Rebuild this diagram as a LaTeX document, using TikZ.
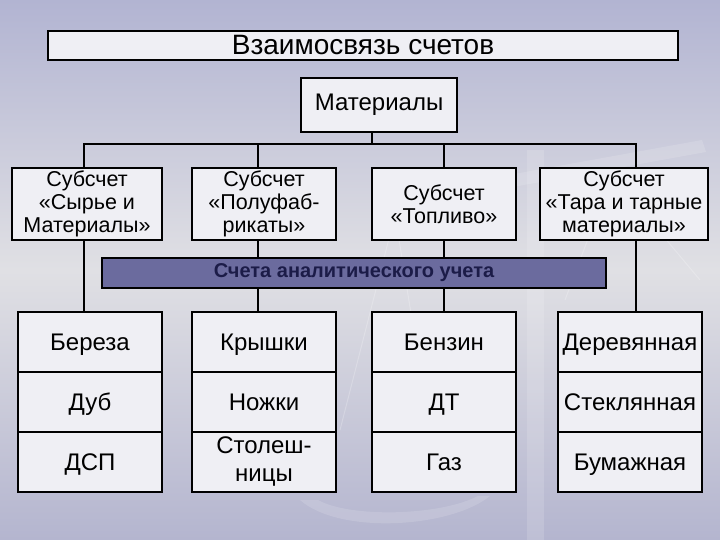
\documentclass[tikz,border=0pt]{standalone}
\usepackage{fontspec}
\setmainfont{Liberation Sans}
\definecolor{bgtop}{HTML}{B2B4D2}
\definecolor{bgmid}{HTML}{E0E0E4}
\definecolor{bgbot}{HTML}{B4B5CF}
\definecolor{boxfill}{HTML}{EFEFF4}
\definecolor{barfill}{HTML}{6B6B9E}
\definecolor{bartext}{HTML}{1C1C48}
\tikzset{
  box/.style={draw=black, line width=1.2bp, fill=boxfill, inner sep=0pt, align=center, text=black},
  subbox/.style={box, minimum height=72bp, font=\fontsize{21.5bp}{23bp}\selectfont},
  cellbox/.style={box, minimum width=144bp, minimum height=60bp, text height=20bp, text depth=4bp, font=\fontsize{24bp}{28bp}\selectfont},
  conn/.style={draw=black, line width=2.2bp},
  deco/.style={fill=white, opacity=0.14, draw=none},
  decoline/.style={draw=white, opacity=0.22, line width=1bp}
}
\begin{document}
\begin{tikzpicture}[x=1bp,y=-1bp]
\useasboundingbox (0,0) rectangle (720,540);
\shade[top color=bgtop, bottom color=bgbot, middle color=bgmid] (0,0) rectangle (720,540);
% faint balance scale in the background
\fill[deco] (527,150) rectangle (544,540);
\fill[deco] (470,182) -- (702,140) -- (706,152) -- (474,194) -- cycle;
\draw[decoline] (612,175) -- (565,300) (612,175) -- (700,280);
\draw[decoline] (395,215) -- (340,430) (395,215) -- (430,430);
\fill[deco] (300,500) .. controls (340,535) and (450,528) .. (490,496) -- (478,496) .. controls (440,516) and (350,518) .. (318,500) -- cycle;

% connector coordinates
\coordinate (h0) at (372,144);
\coordinate (h1) at (84,144);
\coordinate (h2) at (258,144);
\coordinate (h3) at (444,144);
\coordinate (h4) at (636,144);

% nodes
\node[box, minimum width=630bp, minimum height=29bp, font=\fontsize{28bp}{30bp}\selectfont] (title) at (363,45.5) {Взаимосвязь счетов};
\node[box, minimum width=156bp, minimum height=54bp, font=\fontsize{24bp}{27bp}\selectfont] (mat) at (379,105) {Материалы};

\node[cellbox] (b11) at (90,342) {Береза};
\node[cellbox] (b12) at (90,402) {Дуб};
\node[cellbox] (b13) at (90,462) {ДСП};
\node[cellbox] (b21) at (264,342) {Крышки};
\node[cellbox] (b22) at (264,402) {Ножки};
\node[cellbox, text height=, text depth=] (b23) at (264,462) {Столеш-\\ницы};
\node[cellbox] (b31) at (444,342) {Бензин};
\node[cellbox] (b32) at (444,402) {ДТ};
\node[cellbox] (b33) at (444,462) {Газ};
\node[cellbox] (b41) at (630,342) {Деревянная};
\node[cellbox] (b42) at (630,402) {Стеклянная};
\node[cellbox] (b43) at (630,462) {Бумажная};

% connectors
\draw[conn] (mat.south -| h0) -- (h0);
\draw[conn, line cap=rect] (h1) -- (h4);
\draw[conn] (h1) -- (h1 |- b11.north);
\draw[conn] (h2) -- (h2 |- b21.north);
\draw[conn] (h3) -- (h3 |- b31.north);
\draw[conn] (h4) -- (h4 |- b41.north);

\node[subbox, minimum width=150bp] (s1) at (87,204) {Субсчет\\«Сырье и\\Материалы»};
\node[subbox, minimum width=144bp] (s2) at (264,204) {Субсчет\\«Полуфаб-\\рикаты»};
\node[subbox, minimum width=144bp] (s3) at (444,204) {Субсчет\\«Топливо»};
\node[subbox, minimum width=168bp] (s4) at (624,204) {Субсчет\\«Тара и тарные\\материалы»};

\node[draw=black, line width=1.2bp, fill=barfill, minimum width=504bp, minimum height=30bp, inner sep=0pt, text=bartext, font=\fontsize{20bp}{22bp}\selectfont\bfseries] (bar) at (354,273) {Счета аналитического учета};
\end{tikzpicture}
\end{document}
